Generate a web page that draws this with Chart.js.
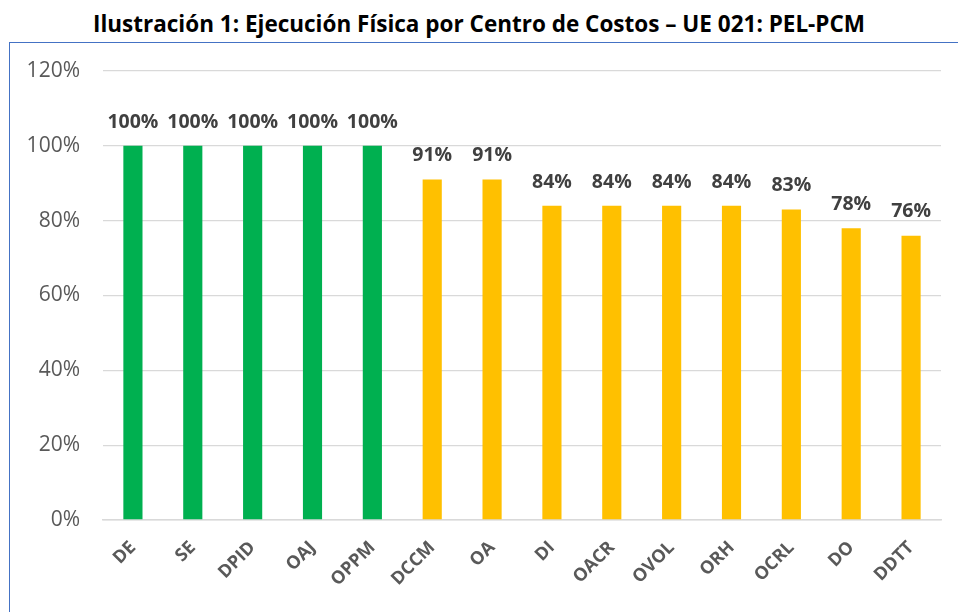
<!DOCTYPE html>
<html><head><meta charset="utf-8">
<script src="https://cdn.jsdelivr.net/npm/chart.js@4"></script>
<style>
html,body{margin:0;padding:0;background:#fff;width:958px;height:612px;overflow:hidden;}
#title{position:absolute;left:0;top:8px;width:958px;text-align:center;font-family:"Open Sans";font-weight:bold;font-size:22.5px;color:#000;white-space:nowrap;}
#frame{position:absolute;left:9px;top:42px;width:960px;height:600px;border-left:1.5px solid #4472C4;border-top:1.5px solid #4472C4;}
#wrap{position:absolute;left:0;top:0;width:958px;height:612px;}
</style></head>
<body>
<div id="title">Ilustración 1: Ejecución Física por Centro de Costos – UE 021: PEL-PCM</div>
<div id="frame"></div>
<div id="wrap"><canvas id="c" width="958" height="612"></canvas></div>
<script>
const categories = ["DE","SE","DPID","OAJ","OPPM","DCCM","OA","DI","OACR","OVOL","ORH","OCRL","DO","DDTT"];
const values = [100,100,100,100,100,91,91,84,84,84,84,83,78,76];
const yTicks = [0,20,40,60,80,100,120];
const colors = values.map(v => v >= 100 ? "#00B050" : "#FFC000");

const labelPlugin = {
  id: "barLabels",
  afterDatasetsDraw(chart) {
    const ctx = chart.ctx;
    const meta = chart.getDatasetMeta(0);
    ctx.save();
    ctx.font = "bold 19.5px 'Open Sans'";
    ctx.fillStyle = "#404040";
    ctx.textAlign = "center";
    ctx.textBaseline = "bottom";
    meta.data.forEach((bar, i) => {
      ctx.fillText(values[i] + "%", bar.x, bar.y - 14);
    });
    ctx.restore();
  }
};

new Chart(document.getElementById("c"), {
  type: "bar",
  data: { labels: categories, datasets: [{ data: values, backgroundColor: colors, categoryPercentage: 1, barPercentage: 0.32 }] },
  options: {
    responsive: false, animation: false,
    layout: { padding: { left: 0, right: 17, top: 71, bottom: 0 } },
    plugins: { legend: { display: false }, tooltip: { enabled: false } },
    scales: {
      y: {
        min: 0, max: 120,
        afterBuildTicks(s) { s.ticks = yTicks.map(v => ({ value: v })); },
        afterFit(s) { s.width = 103; },
        grid: { color: "#d9d9d9", lineWidth: 1.3, drawTicks: false },
        border: { display: false },
        ticks: { padding: 23, color: "#595959", font: { family: "Open Sans", size: 21 }, callback: v => v + "%" }
      },
      x: {
        afterFit(s) { s.height = 92; },
        grid: { display: false, drawTicks: false },
        border: { display: true, color: "#d9d9d9", width: 1.5 },
        ticks: { minRotation: 45, maxRotation: 45, padding: 17, autoSkip: false, color: "#595959", font: { family: "Open Sans", size: 18, weight: "bold" } }
      }
    }
  },
  plugins: [labelPlugin]
});
</script>
</body></html>
